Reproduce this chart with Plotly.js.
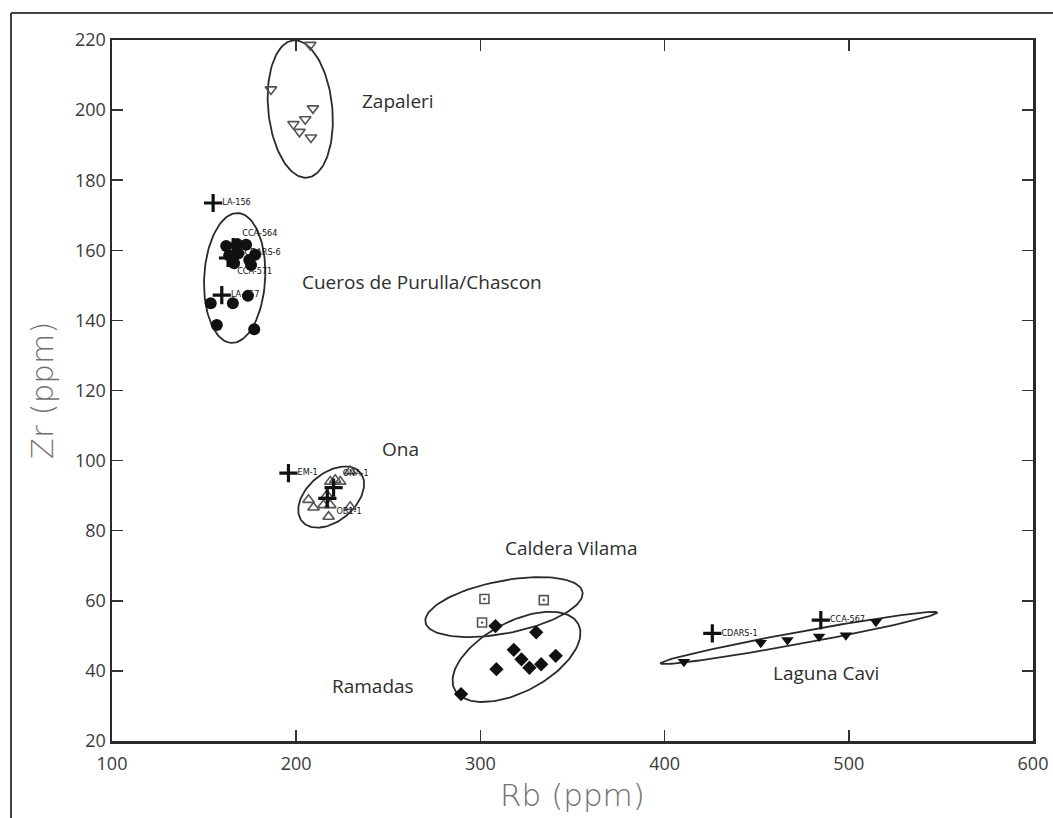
<!DOCTYPE html>
<html>
<head>
<meta charset="utf-8">
<script src="https://cdn.plot.ly/plotly-3.0.1.min.js"></script>
<style>html,body{margin:0;padding:0;background:#fff;}#chart{width:1053px;height:818px;}</style>
</head>
<body>
<div id="chart"></div>
<script>
// ---- data (Rb ppm, Zr ppm) ----
const zapaleriRb = [207.6, 186.3, 209.1, 204.9, 198.5, 201.8, 208.0];
const zapaleriZr = [218.6, 205.9, 200.5, 197.4, 196.0, 193.8, 192.2];

const cuerosRb = [162.0, 167.9, 172.8, 163.6, 168.5, 166.3, 174.5, 177.7, 175.5, 173.8, 165.6, 153.6, 156.9, 177.2];
const cuerosZr = [161.2, 161.8, 161.6, 158.5, 159.1, 156.3, 157.2, 158.7, 155.8, 147.0, 144.9, 144.9, 138.7, 137.5];

const onaRb = [229.3, 206.7, 209.4, 217.6, 229.3, 218.5, 221.2, 223.9, 216.7, 218.5, 214.8];
const onaZr = [97.0, 88.8, 86.6, 84.0, 86.8, 94.0, 94.5, 94.0, 90.2, 87.3, 87.3];

const vilamaRb = [302.2, 334.4, 300.9];
const vilamaZr = [60.5, 60.2, 53.8];

const ramadasRb = [308.2, 330.3, 318.1, 322.3, 326.6, 333.0, 340.9, 308.7, 289.5];
const ramadasZr = [52.8, 51.0, 46.0, 43.3, 40.9, 41.9, 44.3, 40.5, 33.4];

const caviRb = [410.5, 452.2, 466.7, 483.9, 498.4, 514.7];
const caviZr = [42.6, 48.0, 48.8, 49.8, 50.2, 54.0];

// artefact samples (crosses)
const sampleNames = ["LA-156", "CCA-564", "CDARS-6", "CCA-571", "LA-457", "EM-1", "ONA-1", "OB1-1", "CDARS-1", "CCA-567"];
const sampleRb = [154.9, 165.8, 167.0, 163.0, 159.6, 195.8, 220.3, 216.9, 425.9, 484.8];
const sampleZr = [173.5, 160.9, 159.2, 157.8, 147.2, 96.4, 92.3, 89.2, 50.7, 54.5];
const samplePos = ["middle right", "top right", "middle right", "bottom right", "middle right", "middle right", "top right", "bottom right", "middle right", "middle right"];

// group labels
const groupNames = ["Zapaleri", "Cueros de Purulla/Chascon", "Ona", "Caldera Vilama", "Ramadas", "Laguna Cavi"];
const groupLabelRb = [234.8, 202.2, 245.7, 312.0, 218.5, 457.6];
const groupLabelZr = [202.6, 151.0, 103.3, 75.1, 35.7, 39.4];

// group ellipses: centre (Rb, Zr), semi-axes (screen px), tilt (deg)
const ellCx = [202.2, 166.6, 219.0, 312.8, 319.6, 473.0];
const ellCy = [200.3, 152.1, 89.6, 58.2, 44.0, 49.4];
const ellA = [69, 65, 38, 80, 70, 140.6];
const ellB = [32, 30.5, 24, 26.3, 35, 6];
const ellAng = [95.8, 87, 40, 11, 28, 10.4];

// ---- layout constants ----
const W = 1053, H = 818;
const M = {l: 112, r: 20, t: 40, b: 77};
const xRange = [100, 600], yRange = [20, 220];
const pxX = (W - M.l - M.r) / (xRange[1] - xRange[0]);
const pxY = (H - M.t - M.b) / (yRange[1] - yRange[0]);

function ellipse(i) {
  const xs = [], ys = [];
  const th = ellAng[i] * Math.PI / 180;
  for (let k = 0; k <= 120; k++) {
    const t = k / 120 * 2 * Math.PI;
    const u = ellA[i] * Math.cos(t), v = ellB[i] * Math.sin(t);
    const dx = u * Math.cos(th) - v * Math.sin(th);
    const dy = u * Math.sin(th) + v * Math.cos(th);
    xs.push(ellCx[i] + dx / pxX);
    ys.push(ellCy[i] + dy / pxY);
  }
  return {x: xs, y: ys, mode: 'lines', type: 'scatter', hoverinfo: 'skip',
          line: {color: '#2a2a2a', width: 1.8}, showlegend: false};
}

const traces = [];
for (let i = 0; i < ellCx.length; i++) traces.push(ellipse(i));

const grey = '#555555';
traces.push({x: zapaleriRb, y: zapaleriZr, mode: 'markers', type: 'scatter', name: 'Zapaleri',
  marker: {symbol: 'triangle-down-open', size: 10, color: grey, line: {width: 1.6}}});
traces.push({x: cuerosRb, y: cuerosZr, mode: 'markers', type: 'scatter', name: 'Cueros de Purulla/Chascon',
  marker: {symbol: 'circle', size: 12, color: '#111111'}});
traces.push({x: onaRb, y: onaZr, mode: 'markers', type: 'scatter', name: 'Ona',
  marker: {symbol: 'triangle-up-open', size: 10, color: grey, line: {width: 1.6}}});
traces.push({x: vilamaRb, y: vilamaZr, mode: 'markers', type: 'scatter', name: 'Caldera Vilama',
  marker: {symbol: 'square-open-dot', size: 9, color: grey, line: {width: 1.6}}});
traces.push({x: ramadasRb, y: ramadasZr, mode: 'markers', type: 'scatter', name: 'Ramadas',
  marker: {symbol: 'diamond', size: 11, color: '#111111'}});
traces.push({x: caviRb, y: caviZr, mode: 'markers', type: 'scatter', name: 'Laguna Cavi',
  marker: {symbol: 'triangle-down', size: 11, color: '#111111'}});
traces.push({x: sampleRb, y: sampleZr, text: sampleNames, mode: 'markers+text', type: 'scatter', name: 'Samples',
  textposition: samplePos,
  textfont: {family: 'Liberation Sans Narrow, DejaVu Sans Condensed, Arial, sans-serif', size: 9, color: '#111'},
  marker: {symbol: 'cross-thin', size: 13, color: '#111', line: {width: 3.2, color: '#111'}}});

const annotations = groupNames.map((g, i) => ({
  x: groupLabelRb[i], y: groupLabelZr[i], xref: 'x', yref: 'y', text: g, showarrow: false,
  xanchor: 'left', yanchor: 'middle',
  font: {family: 'Open Sans, Noto Sans, sans-serif', size: 19, color: '#2e2e2e'}
}));

const layout = {
  width: W, height: H, autosize: false,
  margin: M,
  paper_bgcolor: '#ffffff', plot_bgcolor: '#ffffff',
  showlegend: false,
  xaxis: {
    range: xRange, tickvals: [100, 200, 300, 400, 500, 600], ticktext: ['100', '200', '300', '400', '500', '600'],
    ticks: 'inside', ticklen: 11, tickwidth: 1.5, tickcolor: '#333',
    showline: true, linecolor: '#2a2a2a', linewidth: 2.5, mirror: 'ticks',
    showgrid: false, zeroline: false, ticklabelstandoff: 5,
    tickfont: {family: 'Open Sans, sans-serif', size: 18, color: '#3a3a3a'},
    title: {text: 'Rb (ppm)', standoff: 10, font: {family: 'DejaVu Sans, sans-serif', size: 31, color: '#707070', weight: 200}}
  },
  yaxis: {
    range: yRange, tickvals: [20, 40, 60, 80, 100, 120, 140, 160, 180, 200, 220],
    ticks: 'inside', ticklen: 11, tickwidth: 1.5, tickcolor: '#333',
    showline: true, linecolor: '#2a2a2a', linewidth: 2.5, mirror: 'ticks',
    showgrid: false, zeroline: false,
    tickfont: {family: 'Open Sans, sans-serif', size: 18, color: '#3a3a3a'},
    title: {text: 'Zr (ppm)', standoff: 12, font: {family: 'DejaVu Sans, sans-serif', size: 31, color: '#707070', weight: 200}}
  },
  annotations: annotations,
  shapes: [
    {type: 'line', xref: 'paper', yref: 'paper', x0: (11 - M.l) / (W - M.l - M.r), x1: 1.05, y0: (H - M.b - 13) / (H - M.t - M.b), y1: (H - M.b - 13) / (H - M.t - M.b), line: {color: '#444', width: 2}},
    {type: 'line', xref: 'paper', yref: 'paper', x0: (11 - M.l) / (W - M.l - M.r), x1: (11 - M.l) / (W - M.l - M.r), y0: (H - M.b - 13) / (H - M.t - M.b), y1: -0.2, line: {color: '#444', width: 2}}
  ]
};

Plotly.newPlot('chart', traces, layout, {displayModeBar: false, staticPlot: true});
</script>
</body>
</html>
